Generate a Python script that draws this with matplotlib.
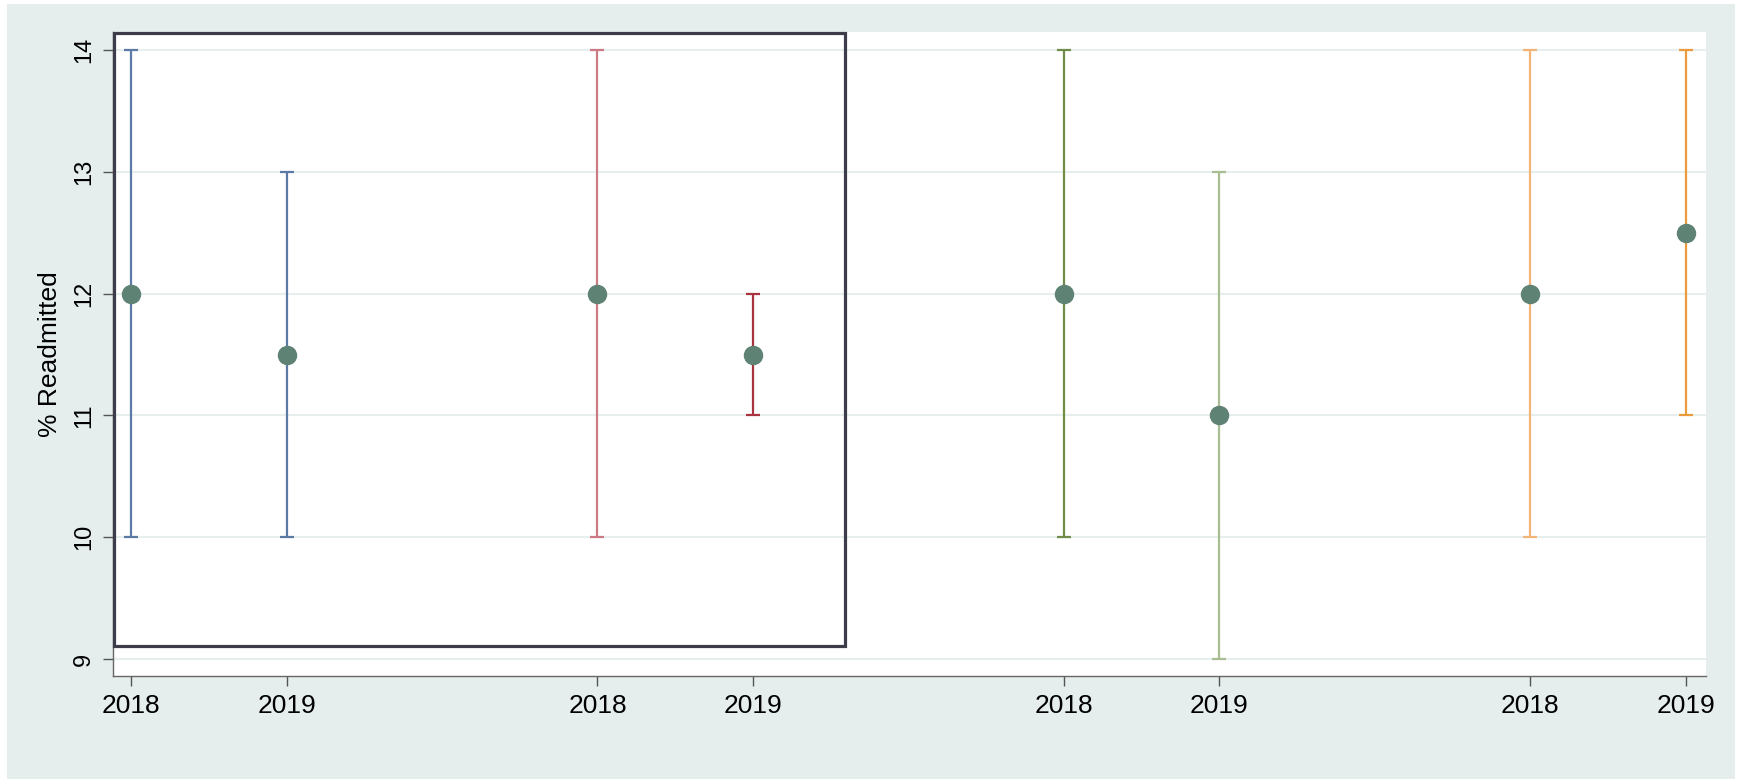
import numpy as np
import matplotlib.pyplot as plt
from matplotlib.patches import Rectangle

# --- data ---
x_pos   = [1, 2, 4, 5, 7, 8, 10, 11]
years   = ["2018", "2019", "2018", "2019", "2018", "2019", "2018", "2019"]
means   = [12, 11.5, 12, 11.5, 12, 11, 12, 12.5]
lows    = [10, 10, 10, 11, 10, 9, 10, 11]
highs   = [14, 13, 14, 12, 14, 13, 14, 14]
colors  = ["#5b7ba6", "#5b7ba6", "#cc7b84", "#a8343f",
           "#6f8c48", "#a9bd92", "#f2b478", "#eb9a3c"]
y_ticks = [9, 10, 11, 12, 13, 14]

plt.rcParams['font.family'] = ['Liberation Sans', 'DejaVu Sans']

fig = plt.figure(figsize=(17.39, 7.79), dpi=100, facecolor="white")
# stata-style light backdrop
fig.patches.append(Rectangle((7 / 1739, 0), 1728 / 1739, 775 / 779,
                             transform=fig.transFigure, facecolor="#e5eded",
                             edgecolor="none", zorder=-10))

ax = fig.add_axes([113 / 1739, 1 - 676 / 779, 1593 / 1739, 644 / 779], zorder=1)
ax.set_facecolor("white")

for x, m, lo, hi, c in zip(x_pos, means, lows, highs, colors):
    ax.errorbar(x, m, yerr=[[m - lo], [hi - m]], fmt="none", ecolor=c,
                elinewidth=1.6, capsize=5, capthick=1.6, zorder=3)
ax.plot(x_pos, means, "o", color="#5e8274", markersize=13, zorder=4)

ax.set_xlim(0.884, 11.13)
ax.set_ylim(8.86, 14.15)
ax.set_xticks(x_pos)
ax.set_xticklabels(years, fontsize=19)
ax.set_yticks(y_ticks)
ax.set_yticklabels([str(t) for t in y_ticks], fontsize=17, rotation=90, va="center")
ax.set_ylabel("% Readmitted", fontsize=19)
ax.yaxis.set_label_coords(-0.032, 0.5)

ax.grid(axis="y", color="#e6eeee", linewidth=1.5)
ax.set_axisbelow(True)
ax.tick_params(length=7, width=1, color="#555555", pad=6)
for s in ["top", "right"]:
    ax.spines[s].set_visible(False)
for s in ["left", "bottom"]:
    ax.spines[s].set_color("#666666")
    ax.spines[s].set_linewidth(1)

# highlight box around the first two groups
ax.add_patch(Rectangle((0.89, 9.107), 5.59 - 0.89, 14.14 - 9.107, fill=False,
                       edgecolor="#3d3d4a", linewidth=2.3, clip_on=False, zorder=5))

plt.savefig("out.png", dpi=100, facecolor=fig.get_facecolor())
plt.close()
